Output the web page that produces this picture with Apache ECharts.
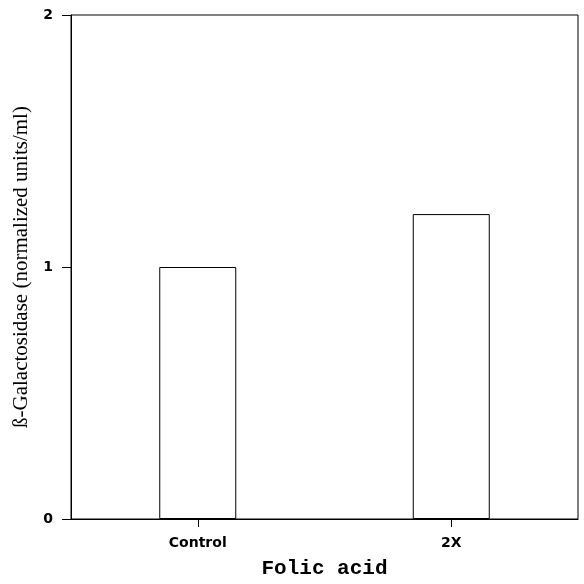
<!DOCTYPE html>
<html>
<head>
<meta charset="utf-8">
<script src="https://cdn.jsdelivr.net/npm/echarts@6/dist/echarts.min.js"></script>
<style>
  html, body { margin: 0; padding: 0; background: #fff; }
  #main { width: 584px; height: 584px; }
</style>
</head>
<body>
<div id="main"></div>
<script>
// data
const categories = ['Control', '2X'];
const values = [1.0, 1.21];
const yTicks = [0, 1, 2];

const chart = echarts.init(document.getElementById('main'));

const option = {
  backgroundColor: '#fff',
  animation: false,
  grid: {
    left: 71, right: 6, top: 15, bottom: 65,
    outerBoundsMode: 'none',
    containLabel: false,
    show: true, borderColor: '#000', borderWidth: 1
  },
  xAxis: {
    type: 'category',
    data: categories,
    name: 'Folic acid',
    nameLocation: 'middle',
    nameGap: 39,
    nameTextStyle: { fontFamily: 'Liberation Mono', fontWeight: 'bold', fontSize: 21, color: '#000' },
    axisLine: { lineStyle: { color: '#000', width: 1 } },
    axisTick: { show: true, alignWithLabel: true, length: 8, lineStyle: { color: '#000' } },
    axisLabel: {
      margin: 17,
      fontFamily: 'DejaVu Sans', fontWeight: 'bold', fontSize: 14, color: '#000'
    }
  },
  yAxis: {
    type: 'value',
    min: yTicks[0],
    max: yTicks[yTicks.length - 1],
    interval: 1,
    name: 'ß-Galactosidase (normalized units/ml)',
    nameLocation: 'middle',
    nameGap: 33,
    nameTextStyle: { fontFamily: 'Liberation Serif', fontSize: 21, color: '#000' },
    axisLine: { show: true, lineStyle: { color: '#000', width: 1 } },
    axisTick: { show: true, length: 9, lineStyle: { color: '#000' } },
    splitLine: { show: false },
    axisLabel: {
      margin: 18,
      fontFamily: 'DejaVu Sans', fontWeight: 'bold', fontSize: 14, color: '#000'
    }
  },
  series: [{
    type: 'bar',
    data: values,
    barWidth: 77,
    itemStyle: { color: '#fff', borderColor: '#000', borderWidth: 1 }
  }]
};

chart.setOption(option);
</script>
</body>
</html>
